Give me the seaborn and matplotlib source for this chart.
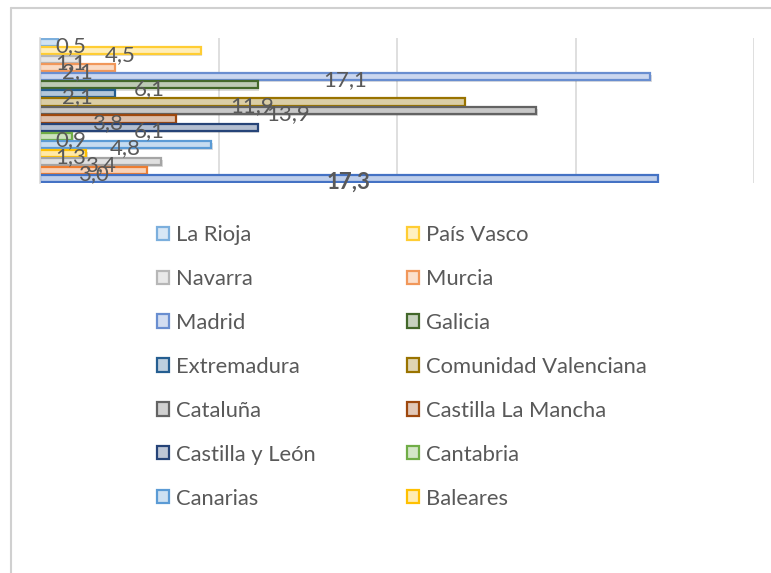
import matplotlib
matplotlib.use("Agg")
import matplotlib.pyplot as plt
import matplotlib.patheffects as pe
from matplotlib.colors import to_rgb
from matplotlib.lines import Line2D
from matplotlib.patches import Patch
import pandas as pd
import seaborn as sns

regiones = ["La Rioja", "País Vasco", "Navarra", "Murcia", "Madrid", "Galicia",
            "Extremadura", "Comunidad Valenciana", "Cataluña", "Castilla La Mancha",
            "Castilla y León", "Cantabria", "Canarias", "Baleares", "Asturias",
            "Aragón", "Andalucía"]
valores = [0.5, 4.5, 1.1, 2.1, 17.1, 6.1, 2.1, 11.9, 13.9, 3.8, 6.1, 0.9, 4.8,
           1.3, 3.4, 3.0, 17.3]
etiquetas = ["0,5", "4,5", "1,1", "2,1", "17,1", "6,1", "2,1", "11,9", "13,9",
             "3,8", "6,1", "0,9", "4,8", "1,3", "3,4", "3,0", "17,3"]
colores = ["#7CAFDD", "#FFCD33", "#B7B7B7", "#F1975A", "#698ED0", "#43682B",
           "#255E91", "#997300", "#636363", "#9E480E", "#264478", "#70AD47",
           "#5B9BD5", "#FFC000", "#A5A5A5", "#ED7D31", "#4472C4"]
# solo se ven 14 entradas en la leyenda
n_leyenda = 14


def tint(c, k=0.65):
    r, g, b = to_rgb(c)
    return (r + (1 - r) * k, g + (1 - g) * k, b + (1 - b) * k)


df = pd.DataFrame({"region": regiones, "valor": valores})

sns.set_style("white")
plt.rcParams["font.family"] = ["Lato", "DejaVu Sans"]

fig = plt.figure(figsize=(7.71, 5.73), dpi=100)
ax = fig.add_axes([40 / 771, 1 - 183 / 573, 714 / 771, 145 / 573])

sns.barplot(data=df, y="region", x="valor", hue="region", palette=colores,
            order=regiones, hue_order=regiones, dodge=False, legend=False,
            width=0.84, orient="h", ax=ax)

for patch, c in zip(ax.patches, colores):
    patch.set_facecolor(tint(c))
    patch.set_edgecolor(c)
    patch.set_linewidth(1.6)
    patch.set_path_effects([pe.SimplePatchShadow(offset=(1, -1.5), alpha=0.18),
                            pe.Normal()])

for i, (v, t) in enumerate(zip(valores, etiquetas)):
    ax.text(max(v / 2, 0.87), i + 0.45, t, ha="center", va="center",
            fontsize=16, color="#595959",
            fontweight="bold" if t == "17,3" else "normal")

ax.set_xlim(0, 20)
ax.set_ylim(len(regiones) - 0.5, -0.5)
ax.set_xticks([5, 10, 15, 20])
ax.grid(axis="x", color="#D9D9D9", linewidth=1.2)
ax.set_axisbelow(True)
ax.tick_params(left=False, bottom=False, labelleft=False, labelbottom=False)
ax.set_xlabel("")
ax.set_ylabel("")
for s in ["top", "right", "bottom"]:
    ax.spines[s].set_visible(False)
ax.spines["left"].set_color("#D9D9D9")
ax.spines["left"].set_linewidth(1.2)

# leyenda en dos columnas, por filas
handles = [Patch(facecolor=tint(c, 0.7), edgecolor=c, linewidth=1.6) for c in colores[:n_leyenda]]
for col, x0 in [(0, 157 / 771), (1, 407 / 771)]:
    idx = list(range(col, n_leyenda, 2))
    fig.legend([handles[i] for i in idx], [regiones[i] for i in idx],
               loc="upper left", bbox_to_anchor=(x0, 1 - 225 / 573),
               frameon=False, fontsize=15.8, labelcolor="#595959",
               handlelength=0.55, handleheight=0.55, handletextpad=0.3,
               labelspacing=1.09, borderaxespad=0, borderpad=0)

# marco del grafico
fig.add_artist(Line2D([11 / 771, 1], [1 - 8 / 573, 1 - 8 / 573],
                      color="#D0D0D0", linewidth=1.5, transform=fig.transFigure))
fig.add_artist(Line2D([11 / 771, 11 / 771], [0, 1 - 8 / 573],
                      color="#D0D0D0", linewidth=1.5, transform=fig.transFigure))

fig.savefig("out.png", dpi=100)
